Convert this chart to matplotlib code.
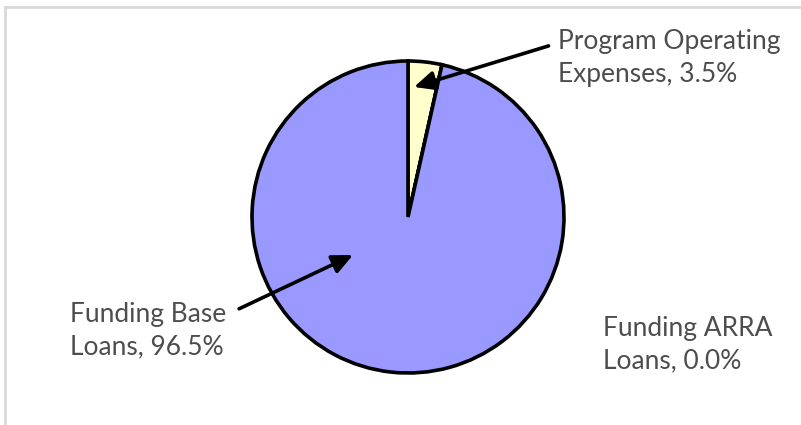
import matplotlib
matplotlib.use("Agg")
import matplotlib.pyplot as plt
from matplotlib.lines import Line2D

# data
labels = ["Program Operating\nExpenses", "Funding ARRA\nLoans", "Funding Base\nLoans"]
shares = [3.5, 0.0, 96.5]
colors = ["#FFFFCC", "#C0504D", "#9999FF"]

W, H = 801, 425
fig = plt.figure(figsize=(W / 100, H / 100), dpi=100)
ax = fig.add_axes([0, 0, 1, 1])
ax.set_xlim(0, W)
ax.set_ylim(0, H)
ax.set_aspect("equal")
ax.axis("off")

# light frame of the chart area (top and left edges visible)
fig.add_artist(Line2D([5 / W, 1], [1 - 7 / H, 1 - 7 / H], color="#d9d9d9", lw=2))
fig.add_artist(Line2D([5 / W, 5 / W], [0, 1 - 7 / H], color="#d9d9d9", lw=2))

wedges, _ = ax.pie(shares, colors=colors, startangle=90, counterclock=False,
                   center=(408, H - 217), radius=156,
                   wedgeprops=dict(edgecolor="black", linewidth=2.6))
ax.set_xlim(0, W)
ax.set_ylim(0, H)

txt = dict(fontsize=19, color="#4d4d4d", family="Lato", ha="left", va="center",
           linespacing=1.38)
lab = [f"{l}, {v:.1f}%" for l, v in zip(labels, shares)]
arrow = dict(arrowstyle="-|>,head_length=0.65,head_width=0.3",
             color="black", lw=2.6, shrinkB=0)

ax.annotate(lab[0], xy=(414, H - 87), xytext=(558, H - 58), **txt,
            arrowprops=dict(arrow, shrinkA=5, relpos=(0, 0.76)))
ax.text(603, H - 345, lab[1], **txt)
ax.annotate(lab[2], xy=(353, H - 255), xytext=(70, H - 331), **txt,
            arrowprops=dict(arrow, shrinkA=8, relpos=(1, 0.78)))

fig.savefig("out.png", dpi=100)
